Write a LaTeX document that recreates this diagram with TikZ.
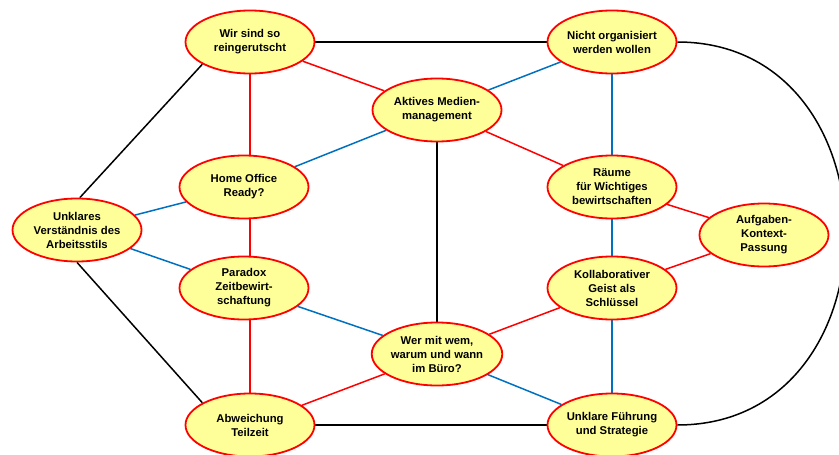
\documentclass[tikz,border=0pt]{standalone}
\usepackage{fontspec}
\setmainfont{Liberation Sans}
\usetikzlibrary{shapes.geometric,backgrounds}
\definecolor{fillY}{RGB}{255,255,153}
\definecolor{edgeR}{RGB}{255,0,0}
\definecolor{edgeB}{RGB}{0,112,192}
\begin{document}
\begin{tikzpicture}[x=1pt,y=-1pt,
  topic/.style={ellipse, draw=edgeR, line width=1.8pt, fill=fillY,
    minimum width=129pt, minimum height=63pt, inner sep=0pt, align=center,
    font=\fontsize{11.3}{14}\selectfont\bfseries},
  lk/.style={line width=1.5pt, black},
  lr/.style={line width=1.5pt, edgeR},
  lb/.style={line width=1.5pt, edgeB}]
\useasboundingbox (0,0) rectangle (839,455);
\clip (0,0) rectangle (839,455);
\node[topic] (wir)  at (250,42)  {Wir sind so\\reingerutscht};
\node[topic] (nicht) at (612,42) {Nicht organisiert\\werden wollen};
\node[topic] (akt)  at (437,110) {Aktives Medien-\\management};
\node[topic] (home) at (244,187) {Home Office\\Ready?};
\node[topic] (raum) at (612,187) {Räume\\für Wichtiges\\bewirtschaften};
\node[topic] (aufg) at (764,235) {Aufgaben-\\Kontext-\\Passung};
\node[topic] (unk)  at (77,230)  {Unklares\\Verständnis des\\Arbeitsstils};
\node[topic] (para) at (244,288) {Paradox\\Zeitbewirt-\\schaftung};
\node[topic] (koll) at (612,288) {Kollaborativer\\Geist als\\Schlüssel};
\node[topic] (wer)  at (437,354) {Wer mit wem,\\warum und wann\\im Büro?};
\node[topic] (abw)  at (250,425) {Abweichung\\Teilzeit};
\node[topic] (fuhr) at (612,425) {Unklare Führung\\und Strategie};
\begin{scope}[on background layer]
  % black
  \draw[lk] (wir) -- (nicht);
  \draw[lk] (unk.85) -- (wir.205);
  \draw[lk] (unk.south) -- (abw.155);
  \draw[lk] (abw) -- (fuhr);
  \draw[lk] (akt) -- (wer);
  \draw[lk] (nicht.east) .. controls +(224,0) and +(224,0) .. (fuhr.east);
  % red
  \draw[lr] (wir) -- (akt);
  \draw[lr] (wir) -- (wir |- home);
  \draw[lr] (home -| wir) -- (para -| wir);
  \draw[lr] (para -| abw) -- (abw);
  \draw[lr] (akt) -- (raum);
  \draw[lr] (raum) -- (aufg);
  \draw[lr] (aufg) -- (koll);
  \draw[lr] (abw) -- (wer);
  \draw[lr] (wer) -- (koll);
  % blue
  \draw[lb] (nicht) -- (akt);
  \draw[lb] (akt) -- (home);
  \draw[lb] (nicht) -- (raum);
  \draw[lb] (unk) -- (home);
  \draw[lb] (unk) -- (para);
  \draw[lb] (para) -- (wer);
  \draw[lb] (wer) -- (fuhr);
  \draw[lb] (raum) -- (koll);
  \draw[lb] (koll) -- (fuhr);
\end{scope}
\end{tikzpicture}
\end{document}
